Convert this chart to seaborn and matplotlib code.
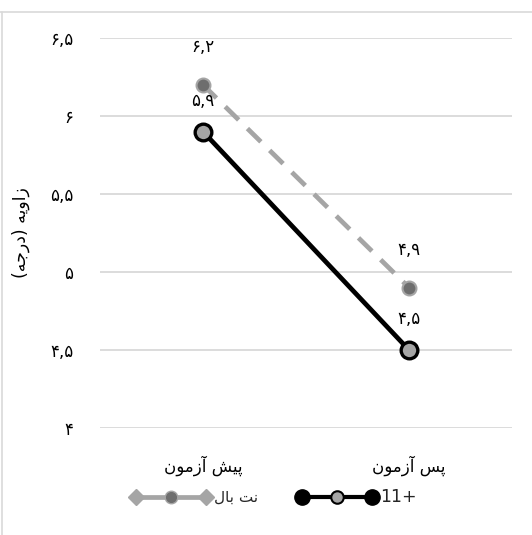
import matplotlib
matplotlib.use("Agg")
import matplotlib.pyplot as plt
from matplotlib.lines import Line2D
from matplotlib.legend_handler import HandlerLine2D, HandlerTuple
import seaborn as sns
import pandas as pd

# data
stages = ["پیش آزمون", "پس آزمون"]
netball = [6.2, 4.9]
plus11 = [5.9, 4.5]
series_names = ["نت بال", "+11"]
y_ticks = [4, 4.5, 5, 5.5, 6, 6.5]
y_label = "زاویه (درجه)"

# matplotlib has no arabic shaping, so pick presentation forms by hand
FORMS = {
    'ا': ('\uFE8D', '\uFE8E', None, None),
    'آ': ('\uFE81', '\uFE82', None, None),
    'ب': ('\uFE8F', '\uFE90', '\uFE91', '\uFE92'),
    'پ': ('\uFB56', '\uFB57', '\uFB58', '\uFB59'),
    'ت': ('\uFE95', '\uFE96', '\uFE97', '\uFE98'),
    'ج': ('\uFE9D', '\uFE9E', '\uFE9F', '\uFEA0'),
    'د': ('\uFEA9', '\uFEAA', None, None),
    'ر': ('\uFEAD', '\uFEAE', None, None),
    'ز': ('\uFEAF', '\uFEB0', None, None),
    'س': ('\uFEB1', '\uFEB2', '\uFEB3', '\uFEB4'),
    'ش': ('\uFEB5', '\uFEB6', '\uFEB7', '\uFEB8'),
    'ل': ('\uFEDD', '\uFEDE', '\uFEDF', '\uFEE0'),
    'م': ('\uFEE1', '\uFEE2', '\uFEE3', '\uFEE4'),
    'ن': ('\uFEE5', '\uFEE6', '\uFEE7', '\uFEE8'),
    'ه': ('\uFEE9', '\uFEEA', '\uFEEB', '\uFEEC'),
    'و': ('\uFEED', '\uFEEE', None, None),
    'ی': ('\uFBFC', '\uFBFD', '\uFBFE', '\uFBFF'),
}


def shape(s):
    out = []
    for i, c in enumerate(s):
        if c not in FORMS:
            out.append(c)
            continue
        f = FORMS[c]
        prev = s[i - 1] if i > 0 else ''
        nxt = s[i + 1] if i + 1 < len(s) else ''
        join_prev = prev in FORMS and FORMS[prev][2] is not None
        join_next = f[2] is not None and nxt in FORMS
        if join_prev and join_next:
            out.append(f[3])
        elif join_prev:
            out.append(f[1])
        elif join_next:
            out.append(f[2])
        else:
            out.append(f[0])
    vis = ''.join(out)[::-1]
    return vis.translate(str.maketrans('()', ')('))


def fa_num(v):
    s = ('%g' % v).replace('.', ',')
    return s.translate(str.maketrans('0123456789', '۰۱۲۳۴۵۶۷۸۹'))


sns.set_theme(style="white")
plt.rcParams['font.family'] = ['DejaVu Sans']

df = pd.DataFrame({
    "stage": stages * 2,
    "value": netball + plus11,
    "group": [series_names[0]] * 2 + [series_names[1]] * 2,
})

gray = "#A5A5A5"
dark = "#6E6E6E"

fig = plt.figure(figsize=(5.32, 5.35), dpi=100)
ax = fig.add_axes([100 / 532, 1 - 428 / 535, 412 / 532, 390 / 535])

nb = df[df.group == series_names[0]]
p11 = df[df.group == series_names[1]]
sns.lineplot(data=nb, x="stage", y="value", ax=ax, color=gray, lw=3.4,
             linestyle=(0, (4, 2.6)), marker="o", markersize=10,
             markerfacecolor=dark, markeredgecolor=gray, markeredgewidth=1.5,
             legend=False)
sns.lineplot(data=p11, x="stage", y="value", ax=ax, color="black", lw=3.4,
             marker="o", markersize=12, markerfacecolor=gray,
             markeredgecolor="black", markeredgewidth=2.4, legend=False)

for i, v in enumerate(netball):
    ax.annotate(fa_num(v), (i, v), xytext=(0, 27), textcoords="offset points",
                ha="center", va="center", fontsize=12, color="black")
for i, v in enumerate(plus11):
    ax.annotate(fa_num(v), (i, v), xytext=(0, 22), textcoords="offset points",
                ha="center", va="center", fontsize=12, color="black")

ax.set_xlim(-0.5, 1.5)
ax.set_ylim(4, 6.5)
ax.set_yticks(y_ticks)
ax.set_yticklabels([fa_num(t) for t in y_ticks], fontsize=12)
ax.set_xticks(range(len(stages)))
ax.set_xticklabels([shape(s) for s in stages], fontsize=12)
ax.tick_params(axis="y", pad=19, length=0, colors="black")
ax.tick_params(axis="x", pad=20, length=0, colors="black")
ax.set_xlabel("")
ax.set_ylabel(shape(y_label), fontsize=12.5, color="black")
ax.yaxis.set_label_coords(-70 / 412, 0.5)
ax.grid(axis="y", color="#D9D9D9", lw=1.3)
ax.grid(axis="x", visible=False)
for sp in ax.spines.values():
    sp.set_visible(False)

# legend in the excel style: end markers plus a middle marker
nb_line = Line2D([], [], color=gray, lw=3.4, marker="D", ms=8, mfc=gray, mec=gray)
nb_dot = Line2D([], [], ls="none", marker="o", ms=9, mfc=dark, mec=gray)
p_line = Line2D([], [], color="black", lw=3, marker="o", ms=11, mfc="black", mec="black")
p_dot = Line2D([], [], ls="none", marker="o", ms=9, mfc=gray, mec="black", mew=1.5)
leg = fig.legend([(nb_line, nb_dot), (p_line, p_dot)], [shape(n) for n in series_names],
                 handler_map={nb_line: HandlerLine2D(numpoints=2),
                              nb_dot: HandlerLine2D(numpoints=1),
                              p_line: HandlerLine2D(numpoints=2),
                              p_dot: HandlerLine2D(numpoints=1),
                              tuple: HandlerTuple(ndivide=1)},
                 loc="center", bbox_to_anchor=(274 / 532, 1 - 497 / 535), ncol=2,
                 frameon=False, fontsize=11, handlelength=5.2, handletextpad=0.2,
                 columnspacing=2.6)
leg.get_texts()[1].set_fontsize(12.5)

# chart border edges visible in the crop
fig.add_artist(Line2D([0, 1], [1 - 11.5 / 535] * 2, color="#D9D9D9", lw=1.2))
fig.add_artist(Line2D([1.5 / 532] * 2, [0, 1 - 11.5 / 535], color="#D9D9D9", lw=1.2))

fig.savefig("out.png", dpi=100)
